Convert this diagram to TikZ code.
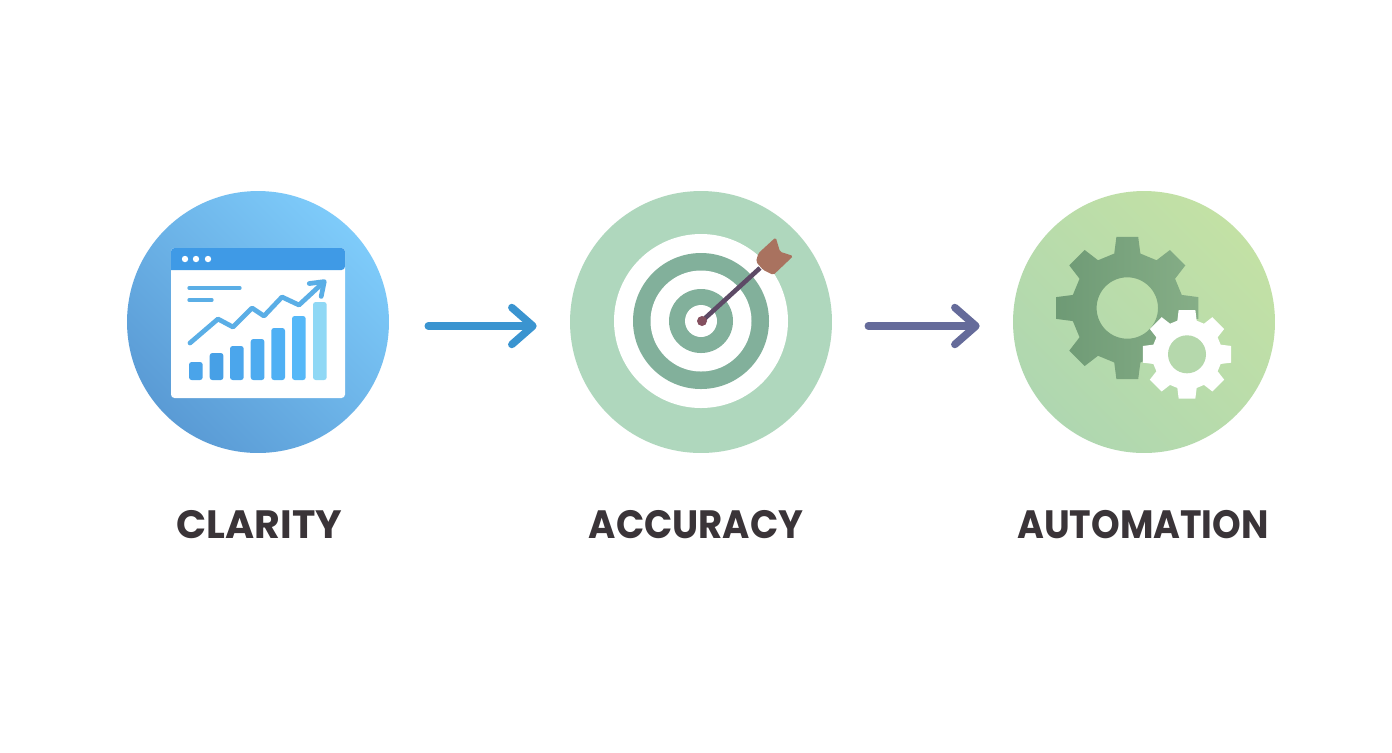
\documentclass[tikz,border=0pt]{standalone}
\usepackage{graphicx}
\usepackage{fontspec}
\setmainfont{Poppins}
\usetikzlibrary{arrows.meta}
\definecolor{inktext}{HTML}{3A3438}
\definecolor{flowblue}{HTML}{3A94D0}
\definecolor{flowviolet}{HTML}{656B9A}
\definecolor{clarityhigh}{HTML}{7ECBFA}
\definecolor{claritylow}{HTML}{5A9BD5}
\definecolor{accuracyfill}{HTML}{AFD7BD}
\definecolor{automationhigh}{HTML}{C3E1A5}
\definecolor{automationlow}{HTML}{AFD7B0}
\definecolor{windowbar}{HTML}{3F9AE6}
\definecolor{trendblue}{HTML}{5AAEE6}
\definecolor{targetring}{HTML}{82B09B}
\definecolor{shaftpurple}{HTML}{5D4A66}
\definecolor{tipred}{HTML}{84505F}
\definecolor{fletchbrown}{HTML}{A9725F}
\definecolor{cogdark}{HTML}{6E9A75}
\definecolor{coglight}{HTML}{86AE87}
\definecolor{coghole}{HTML}{B5D8AC}
% one cog outline: root radius, tip radius, half angle at root, half angle at tip
\newcommand{\gearpath}[4]{(-#3:#1) \foreach \a in {0,45,...,315}{ -- ({\a-#3}:#1) -- ({\a-#4}:#2) -- ({\a+#4}:#2) -- ({\a+#3}:#1)} -- cycle}
\begin{document}
\begin{tikzpicture}[x=0.02cm,y=-0.02cm,
	badge/.style = {circle,inner sep=0pt,minimum size=5.24cm},
	caption/.style = {font=\fontsize{22.5}{26}\selectfont\bfseries,text=inktext,inner sep=0pt},
	flow/.style = {line width=4.3pt,line cap=round,shorten <=0.78cm,shorten >=0.66cm,
		-{Straight Barb[round,length=12pt,width=21pt]}}]
	\useasboundingbox (0,0) rectangle (1392,752);
	\fill[white] (0,0) rectangle (1392,752);

	\node[badge,top color=clarityhigh,bottom color=claritylow,shading angle=-45] (clarity) at (258,322) {};
	\node[badge,fill=accuracyfill] (accuracy) at (701,322) {};
	\node[badge,top color=automationhigh,bottom color=automationlow,shading angle=-45] (automation) at (1144,322) {};

	\node[caption] (claritytext) at (259.5,525) {CLARITY};
	\node[caption] (accuracytext) at (696,525) {\scalebox{0.938}[1]{ACCURACY}};
	\node[caption] (automationtext) at (1143,525) {\scalebox{0.922}[1]{AUTOMATION}};

	\draw[flow,flowblue] ([yshift=-0.08cm]clarity.east) -- ([yshift=-0.08cm]accuracy.west);
	\draw[flow,flowviolet,shorten <=0.72cm] ([yshift=-0.08cm]accuracy.east) -- ([yshift=-0.08cm]automation.west);

	% browser window
	\fill[white,rounded corners=2pt] (171,248) rectangle (345,398);
	\fill[windowbar,rounded corners=2pt] (171,270) -- (171,248) -- (345,248) -- (345,270) [sharp corners] -- cycle;
	\foreach \x in {185,196,208}
		\fill[white] (\x,259) circle (3.2);
	\draw[line width=1.9pt,line cap=round,trendblue] (189,288) -- (240,288);
	\draw[line width=1.9pt,line cap=round,trendblue] (189,300) -- (212,300);
	\foreach \xa/\ytop/\col in {189/362/4AA4EA,209.7/353/47A0E6,230/346/4BA6EC,250.7/339/4DABF0,271.3/328/4FB0F4,292/316/55B8F8,313/302/8FD8F5}{
		\definecolor{barcol}{HTML}{\col}
		\fill[barcol,rounded corners=1.5pt] (\xa,\ytop) rectangle (\xa+13.7,380);
	}
	\draw[line width=2.7pt,trendblue,line cap=round,line join=round,
		-{Straight Barb[round,length=7pt,width=10pt]}]
		(190,343) -- (218,319) -- (233,327) -- (252,308) -- (264,316) -- (282,297) -- (299,305) -- (326,280);

	% target rings
	\foreach \rad/\col in {87/white,68/targetring,50.5/white,32/targetring,16/white}
		\fill[\col] (701,321) circle (\rad);
	\draw[line width=2.6pt,shaftpurple] (702,321) -- (760,268);
	\fill[tipred] (702,321) circle (5);
	\fill[fletchbrown,rounded corners=1pt] (775.7,237.3) -- (780,251.7) -- (793.3,256) -- (773.3,275)
		-- (763.3,270) -- (756,261.7) -- (758.3,253.3) -- cycle;

	% cogs
	\begin{scope}[shift={(1127.3,308)}]
		\path[even odd rule,left color=cogdark,right color=coglight]
			\gearpath{56}{72}{13.5}{8.7} (0,0) circle (30.7);
	\end{scope}
	\begin{scope}[shift={(1187,354.3)}]
		\fill[white] \gearpath{35}{45}{16}{10.7};
		\fill[coghole] (0,0) circle (19);
	\end{scope}
\end{tikzpicture}
\end{document}
